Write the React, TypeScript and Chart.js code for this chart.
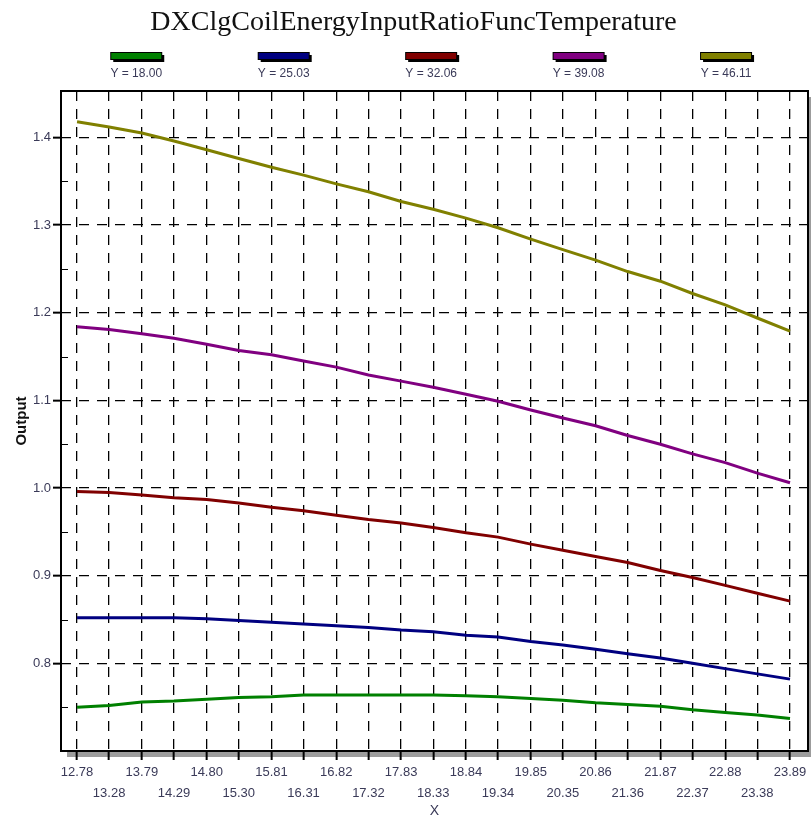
import React, { useEffect, useRef } from 'react';
import { Chart, registerables } from 'chart.js';

Chart.register(...registerables);

const chartTitle = 'DXClgCoilEnergyInputRatioFuncTemperature';
const xAxisTitle = 'X';
const yAxisTitle = 'Output';

const xValues = [
  12.78, 13.28, 13.79, 14.29, 14.8, 15.3, 15.81, 16.31, 16.82, 17.32, 17.83, 18.33,
  18.84, 19.34, 19.85, 20.35, 20.86, 21.36, 21.87, 22.37, 22.88, 23.38, 23.89,
];
const xTickLabels = [
  '12.78', '13.28', '13.79', '14.29', '14.80', '15.30', '15.81', '16.31', '16.82', '17.32',
  '17.83', '18.33', '18.84', '19.34', '19.85', '20.35', '20.86', '21.36', '21.87', '22.37',
  '22.88', '23.38', '23.89',
];
const yTicks = [0.8, 0.9, 1.0, 1.1, 1.2, 1.3, 1.4];
const yMinorTicks = [0.75, 0.85, 0.95, 1.05, 1.15, 1.25, 1.35];
const xMin = 12.53;
const xMax = 24.17;
const yMin = 0.7;
const yMax = 1.453;

const seriesLabels = ['Y = 18.00', 'Y = 25.03', 'Y = 32.06', 'Y = 39.08', 'Y = 46.11'];
const seriesColors = ['#008000', '#000080', '#800000', '#800080', '#808000'];

const y18 = [0.750, 0.752, 0.756, 0.757, 0.759, 0.761, 0.762, 0.764, 0.764, 0.764, 0.764, 0.764, 0.763, 0.762, 0.760, 0.758, 0.755, 0.753, 0.751, 0.747, 0.744, 0.741, 0.737];
const y25 = [0.852, 0.852, 0.852, 0.852, 0.851, 0.849, 0.847, 0.845, 0.843, 0.841, 0.838, 0.836, 0.832, 0.830, 0.825, 0.821, 0.816, 0.811, 0.806, 0.800, 0.794, 0.788, 0.782];
const y32 = [0.996, 0.995, 0.992, 0.989, 0.987, 0.983, 0.978, 0.974, 0.969, 0.964, 0.960, 0.955, 0.949, 0.944, 0.936, 0.929, 0.922, 0.915, 0.906, 0.898, 0.889, 0.880, 0.871];
const y39 = [1.184, 1.181, 1.176, 1.171, 1.164, 1.157, 1.152, 1.145, 1.138, 1.129, 1.122, 1.115, 1.107, 1.099, 1.089, 1.080, 1.071, 1.060, 1.050, 1.039, 1.029, 1.017, 1.006];
const y46 = [1.418, 1.412, 1.405, 1.396, 1.386, 1.376, 1.366, 1.357, 1.347, 1.338, 1.327, 1.318, 1.308, 1.297, 1.284, 1.272, 1.260, 1.247, 1.236, 1.222, 1.209, 1.194, 1.179];

const seriesValues = [y18, y25, y32, y39, y46];

const TEXT_COLOR = '#3a3a58';
const SANS = '"Liberation Sans", Arial, sans-serif';

const decorPlugin = {
  id: 'decor',
  beforeDraw(chart: any) {
    const { ctx, chartArea: a } = chart;
    ctx.save();
    // plot frame shadow
    ctx.fillStyle = '#9c9c9c';
    ctx.fillRect(a.left + 6, a.bottom, a.right - a.left, 6);
    ctx.fillRect(a.right, a.top + 6, 6, a.bottom - a.top);
    // title
    ctx.fillStyle = '#111';
    ctx.font = '28px "Liberation Serif", "Times New Roman", serif';
    ctx.textAlign = 'center';
    ctx.textBaseline = 'middle';
    ctx.fillText(chartTitle, chart.width / 2 + 8, 23);
    // legend
    const step = chart.width / 5.5;
    const start = chart.width * 0.168;
    chart.data.datasets.forEach((ds: any, i: number) => {
      const cx = start + i * step;
      const w = 50;
      const h = 6;
      const top = 53;
      ctx.fillStyle = '#000';
      ctx.fillRect(cx - w / 2 + 2, top + 2, w + 1, h + 1);
      ctx.fillRect(cx - w / 2 - 1, top - 1, w + 2, h + 2);
      ctx.fillStyle = ds.borderColor;
      ctx.fillRect(cx - w / 2, top, w, h);
      ctx.fillStyle = TEXT_COLOR;
      ctx.font = '12px ' + SANS;
      ctx.textAlign = 'center';
      ctx.textBaseline = 'middle';
      ctx.fillText(ds.label, cx, 74);
    });
    ctx.restore();
  },
  afterDatasetsDraw(chart: any) {
    const { ctx, chartArea: a, scales } = chart;
    ctx.save();
    ctx.strokeStyle = '#000';
    ctx.lineWidth = 1;
    ctx.beginPath();
    yMinorTicks.forEach((v) => {
      const y = Math.round(scales.y.getPixelForValue(v)) + 0.5;
      ctx.moveTo(a.left, y);
      ctx.lineTo(a.left + 7, y);
    });
    ctx.stroke();
    ctx.lineWidth = 2;
    ctx.strokeRect(a.left, a.top, a.right - a.left, a.bottom - a.top);
    ctx.restore();
  },
};

export default function App() {
  const canvasRef = useRef<HTMLCanvasElement | null>(null);

  useEffect(() => {
    document.body.style.margin = '0';
    const canvas = canvasRef.current;
    if (!canvas) return;
    const chart = new Chart(canvas, {
      type: 'line',
      data: {
        datasets: seriesValues.map((vals, i) => ({
          label: seriesLabels[i],
          data: vals.map((v, j) => ({ x: xValues[j], y: v })),
          borderColor: seriesColors[i],
          backgroundColor: seriesColors[i],
          borderWidth: 3,
          pointRadius: 0,
          tension: 0,
          fill: false,
        })),
      },
      options: {
        responsive: false,
        animation: false,
        devicePixelRatio: 1,
        layout: { padding: { top: 91, right: 3, left: 0, bottom: 0 } },
        plugins: {
          legend: { display: false },
          title: { display: false },
          tooltip: { enabled: false },
        },
        scales: {
          x: {
            type: 'linear',
            min: xMin,
            max: xMax,
            afterBuildTicks: (scale: any) => {
              scale.ticks = xValues.map((v) => ({ value: v }));
            },
            afterFit: (scale: any) => {
              scale.height = 69;
            },
            grid: {
              color: '#000',
              lineWidth: 1.3,
              tickLength: 9,
              tickColor: '#000',
              tickWidth: 2,
            },
            border: { display: false, dash: [10, 8] },
            ticks: {
              autoSkip: false,
              maxRotation: 0,
              minRotation: 0,
              padding: 2,
              color: TEXT_COLOR,
              font: { family: SANS, size: 13, lineHeight: 1.6 },
              callback: (_v: any, index: number) =>
                index % 2 === 0 ? xTickLabels[index] : ['', xTickLabels[index]],
            },
            title: {
              display: true,
              text: xAxisTitle,
              color: TEXT_COLOR,
              font: { family: SANS, size: 14 },
              padding: { top: 0, bottom: 0 },
            },
          },
          y: {
            type: 'linear',
            min: yMin,
            max: yMax,
            afterBuildTicks: (scale: any) => {
              scale.ticks = yTicks.map((v) => ({ value: v }));
            },
            afterFit: (scale: any) => {
              scale.width = 61;
            },
            grid: {
              color: '#000',
              lineWidth: 1.3,
              tickLength: 8,
              tickColor: '#000',
              tickWidth: 2,
            },
            border: { display: false, dash: [10, 8] },
            ticks: {
              padding: 2,
              color: TEXT_COLOR,
              font: { family: SANS, size: 13 },
              callback: (v: any) => Number(v).toFixed(1),
            },
            title: {
              display: true,
              text: yAxisTitle,
              color: '#111',
              font: { family: SANS, size: 15, weight: 'bold' },
              padding: { top: 13, bottom: 0 },
            },
          },
        },
      },
      plugins: [decorPlugin],
    });
    return () => chart.destroy();
  }, []);

  return (
    <canvas
      ref={canvasRef}
      width={811}
      height={820}
      style={{ display: 'block', width: '811px', height: '820px' }}
    />
  );
}
